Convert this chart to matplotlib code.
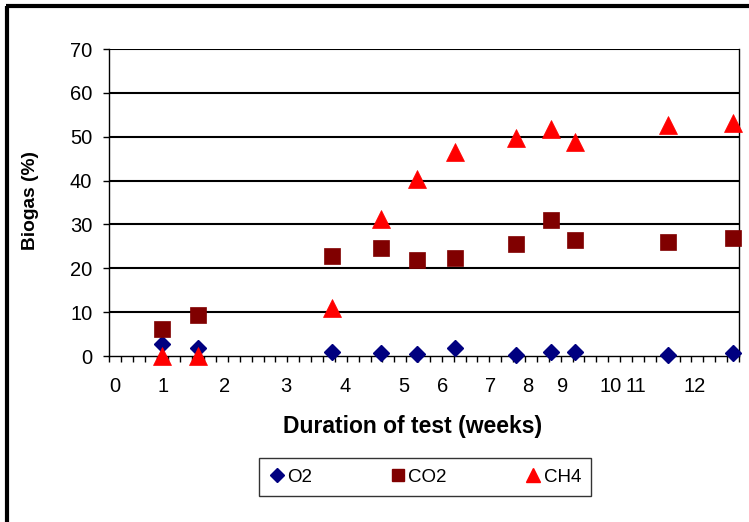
import matplotlib
matplotlib.use("Agg")
import matplotlib.pyplot as plt
from matplotlib.lines import Line2D

plt.rcParams['font.family'] = ['Liberation Sans', 'DejaVu Sans']

# Sampling positions on the test timeline (axis units)
sample_pos = [4.5, 7.5, 18.8, 22.9, 25.9, 29.1, 34.2, 37.2, 39.2, 47.0, 52.5]

# Gas composition (%)
o2 = [2.7, 1.8, 0.8, 0.7, 0.4, 1.8, 0.3, 0.8, 0.8, 0.3, 0.6]
co2 = [6.1, 9.3, 22.9, 24.7, 22.0, 22.4, 25.6, 31.1, 26.5, 26.1, 27.0]
ch4 = [0.0, 0.0, 10.9, 31.3, 40.3, 46.6, 49.8, 51.7, 48.9, 52.6, 53.1]

# Week labels and where they sit along the axis
week_labels = ["0", "1", "2", "3", "4", "5", "6", "7", "8", "9", "10", "11", "12"]
week_label_pos = [0.5, 4.55, 9.75, 14.9, 19.9, 24.8, 28.1, 32.1, 35.2, 38.2, 42.2, 44.3, 49.3]

fig = plt.figure(figsize=(7.49, 5.22), dpi=100)
ax = fig.add_axes([109 / 749, 1 - 356 / 522, 630 / 749, 307 / 522])

ax.set_xlim(0, 53)
ax.set_ylim(0, 70)

# Horizontal gridlines
for y in range(10, 71, 10):
    ax.axhline(y, color='black', lw=1.5, zorder=1)

ax.plot(sample_pos, o2, linestyle='none', marker='D', ms=8.6, color='#000080',
        mec='#000080', zorder=3, clip_on=False, label='O2')
ax.plot(sample_pos, co2, linestyle='none', marker='s', ms=11, color='#800000',
        mec='#800000', mew=0.5, zorder=4, clip_on=False, label='CO2')
ax.plot(sample_pos, ch4, linestyle='none', marker='^', ms=12.5, color='#ff0000',
        mec='#ff0000', mew=0.5, zorder=5, clip_on=False, label='CH4')

for side in ['left', 'right', 'bottom']:
    ax.spines[side].set_color('black')
    ax.spines[side].set_linewidth(1.0)
ax.spines['top'].set_visible(False)

ax.set_yticks(range(0, 71, 10))
ax.tick_params(axis='y', direction='out', length=4, width=1, pad=8, labelsize=14.5)
ax.set_xticks(range(0, 54))
ax.tick_params(axis='x', direction='out', length=4.5, width=1, labelbottom=False)

for lab, pos in zip(week_labels, week_label_pos):
    ax.text(pos, -6.9, lab, ha='center', va='center', fontsize=14.5)

ax.set_ylabel('Biogas (%)', fontsize=13.8, fontweight='bold')
ax.yaxis.set_label_coords(-(109 - 39) / 630, (356 - 201) / 307)
fig.text(413 / 749, 1 - 426 / 522, 'Duration of test (weeks)', ha='center',
         va='center', fontsize=16.5, fontweight='bold')

handles = [
    Line2D([], [], linestyle='none', marker='D', ms=7, color='#000080'),
    Line2D([], [], linestyle='none', marker='s', ms=8, color='#800000'),
    Line2D([], [], linestyle='none', marker='^', ms=10, color='#ff0000'),
]
leg = fig.legend(handles, ['O2', 'CO2', 'CH4'], ncol=3, loc='center',
                 bbox_to_anchor=(425 / 749, 1 - 477 / 522), frameon=True,
                 fancybox=False, edgecolor='black', fontsize=13.5,
                 handlelength=0.8, handletextpad=0.15, columnspacing=4.2,
                 borderpad=0.55)
leg.get_frame().set_linewidth(1.0)

# Outer chart frame (left and top edges)
fig.add_artist(Line2D([7 / 749, 7 / 749], [0, 1 - 6 / 522], transform=fig.transFigure,
                      color='black', lw=3, solid_capstyle='butt'))
fig.add_artist(Line2D([5.5 / 749, 1], [1 - 6 / 522, 1 - 6 / 522], transform=fig.transFigure,
                      color='black', lw=3, solid_capstyle='butt'))

fig.savefig('out.png', dpi=100)
